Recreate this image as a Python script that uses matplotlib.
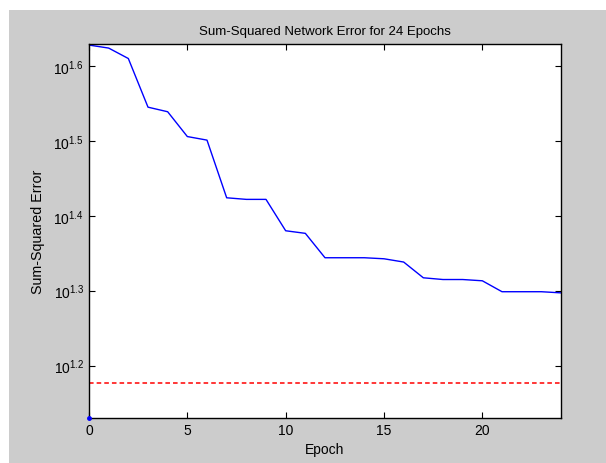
import matplotlib.pyplot as plt
from matplotlib.patches import Rectangle
from matplotlib.ticker import FixedLocator, FuncFormatter, NullLocator

plt.rcParams['font.family'] = ['Liberation Sans', 'DejaVu Sans']
plt.rcParams['mathtext.fontset'] = 'custom'
plt.rcParams['mathtext.rm'] = 'Liberation Sans'
plt.rcParams['mathtext.it'] = 'Liberation Sans'

# training record
epochs = list(range(25))
sse = [42.46, 42.07, 40.74, 35.08, 34.59, 32.05, 31.70, 26.55, 26.42, 26.42,
       23.99, 23.80, 22.08, 22.08, 22.08, 22.01, 21.79, 20.76, 20.65, 20.65,
       20.57, 19.89, 19.89, 19.89, 19.82]
goal = 15.0
dot_epoch = [0]
dot_value = [13.49]
y_exponents = [1.2, 1.3, 1.4, 1.5, 1.6]
x_ticks = [0, 5, 10, 15, 20]

fig = plt.figure(figsize=(6.06, 4.64), dpi=100, facecolor='white')
fig.patches.append(Rectangle((9 / 606, 0), 1, (464 - 11) / 464, transform=fig.transFigure,
                             facecolor='#cccccc', edgecolor='none', zorder=-10))
ax = fig.add_axes([89 / 606, 45 / 464, 472 / 606, 374 / 464])
ax.set_facecolor('white')

ax.semilogy(epochs, sse, color='#0000ff', linewidth=1.0)
ax.axhline(goal, color='#ff0000', linestyle=(0, (3, 2)), linewidth=1.1)
ax.plot(dot_epoch, dot_value, '.', color='#0000ff', markersize=5, clip_on=False, zorder=5)

ax.set_xlim(0, 24)
ax.set_ylim(13.49, 42.6)
ax.xaxis.set_major_locator(FixedLocator(x_ticks))
ax.yaxis.set_major_locator(FixedLocator([10 ** e for e in y_exponents]))
ax.yaxis.set_minor_locator(NullLocator())
ax.yaxis.set_major_formatter(FuncFormatter(lambda v, p: '$10^{%s}$' % y_exponents[p]))

ax.tick_params(direction='in', length=4, width=0.8, top=True, right=True,
               labelsize=10, colors='black')
for s in ax.spines.values():
    s.set_linewidth(1.0)

ax.set_title('Sum-Squared Network Error for 24 Epochs', fontsize=9.5, pad=7)
ax.set_xlabel('Epoch', fontsize=10, labelpad=4)
ax.set_ylabel('Sum-Squared Error', fontsize=10.3, labelpad=6)

fig.savefig('out.png', dpi=100, facecolor=fig.get_facecolor())
